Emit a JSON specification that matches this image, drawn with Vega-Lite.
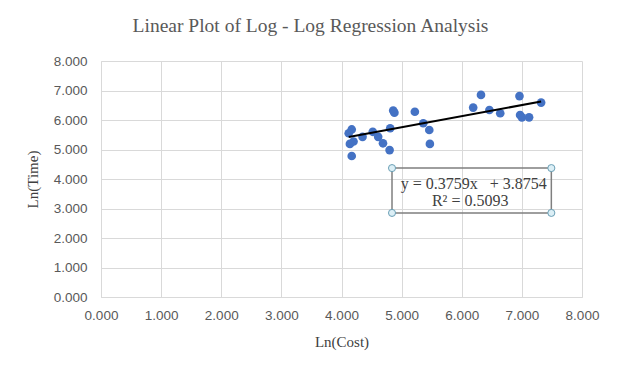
{
  "$schema": "https://vega.github.io/schema/vega-lite/v6.json",
  "width": 481,
  "height": 236,
  "autosize": {"type": "none"},
  "padding": {"left": 101, "top": 61, "right": 37, "bottom": 70},
  "background": "white",
  "title": {
    "text": "Linear Plot of Log - Log Regression Analysis",
    "font": "Liberation Serif",
    "fontSize": 19.5,
    "fontWeight": "normal",
    "color": "#595959",
    "anchor": "middle",
    "baseline": "alphabetic",
    "dx": -31,
    "offset": 3
  },
  "datasets": {
    "points": [
      {"lnCost": 4.17, "lnTime": 5.68},
      {"lnCost": 4.12, "lnTime": 5.55},
      {"lnCost": 4.14, "lnTime": 5.19},
      {"lnCost": 4.2, "lnTime": 5.27},
      {"lnCost": 4.17, "lnTime": 4.78},
      {"lnCost": 4.35, "lnTime": 5.43},
      {"lnCost": 4.52, "lnTime": 5.6},
      {"lnCost": 4.61, "lnTime": 5.43},
      {"lnCost": 4.69, "lnTime": 5.21},
      {"lnCost": 4.8, "lnTime": 4.98},
      {"lnCost": 4.81, "lnTime": 5.72},
      {"lnCost": 4.86, "lnTime": 6.32},
      {"lnCost": 4.88, "lnTime": 6.25},
      {"lnCost": 5.22, "lnTime": 6.28},
      {"lnCost": 5.36, "lnTime": 5.89},
      {"lnCost": 5.46, "lnTime": 5.66},
      {"lnCost": 5.47, "lnTime": 5.19},
      {"lnCost": 6.19, "lnTime": 6.42},
      {"lnCost": 6.32, "lnTime": 6.85},
      {"lnCost": 6.46, "lnTime": 6.34},
      {"lnCost": 6.64, "lnTime": 6.23},
      {"lnCost": 6.96, "lnTime": 6.81},
      {"lnCost": 6.97, "lnTime": 6.17},
      {"lnCost": 7.0, "lnTime": 6.09},
      {"lnCost": 7.12, "lnTime": 6.09},
      {"lnCost": 7.32, "lnTime": 6.59}
    ],
    "trend": [
      {"lnCost": 4.12, "lnTime": 5.424},
      {"lnCost": 7.32, "lnTime": 6.627}
    ],
    "box": [
      {"x1": 4.84, "x2": 7.49, "y1": 2.85, "y2": 4.37}
    ],
    "handles": [
      {"hx": 4.84, "hy": 2.85},
      {"hx": 7.49, "hy": 2.85},
      {"hx": 4.84, "hy": 4.37},
      {"hx": 7.49, "hy": 4.37}
    ],
    "labels": [
      {"lx": 6.2, "ly": 3.82, "label": "y = 0.3759x \u00a0 + 3.8754"},
      {"lx": 6.14, "ly": 3.27, "label": "R² = 0.5093"}
    ]
  },
  "layer": [
    {
      "data": {"name": "points"},
      "mark": {"type": "point", "filled": true, "shape": "circle", "size": 75, "color": "#4472C4", "opacity": 1},
      "encoding": {
        "x": {
          "field": "lnCost", "type": "quantitative",
          "scale": {"domain": [0, 8], "nice": false, "zero": false},
          "axis": {"values": [0, 1, 2, 3, 4, 5, 6, 7, 8], "format": ".3f", "title": "Ln(Cost)"}
        },
        "y": {
          "field": "lnTime", "type": "quantitative",
          "scale": {"domain": [0, 8], "nice": false, "zero": false},
          "axis": {"values": [0, 1, 2, 3, 4, 5, 6, 7, 8], "format": ".3f", "title": "Ln(Time)"}
        }
      }
    },
    {
      "data": {"name": "trend"},
      "mark": {"type": "line", "color": "black", "strokeWidth": 2},
      "encoding": {
        "x": {"field": "lnCost", "type": "quantitative", "axis": {"values": [0, 1, 2, 3, 4, 5, 6, 7, 8], "format": ".3f", "title": "Ln(Cost)"}},
        "y": {"field": "lnTime", "type": "quantitative", "axis": {"values": [0, 1, 2, 3, 4, 5, 6, 7, 8], "format": ".3f", "title": "Ln(Time)"}}
      }
    },
    {
      "data": {"name": "box"},
      "mark": {"type": "rect", "fill": null, "fillOpacity": 0, "stroke": "#7f7f7f", "strokeWidth": 1.5},
      "encoding": {
        "x": {"field": "x1", "type": "quantitative", "axis": {"values": [0, 1, 2, 3, 4, 5, 6, 7, 8], "format": ".3f", "title": "Ln(Cost)"}},
        "x2": {"field": "x2"},
        "y": {"field": "y1", "type": "quantitative", "axis": {"values": [0, 1, 2, 3, 4, 5, 6, 7, 8], "format": ".3f", "title": "Ln(Time)"}},
        "y2": {"field": "y2"}
      }
    },
    {
      "data": {"name": "handles"},
      "mark": {"type": "point", "filled": true, "shape": "circle", "size": 50, "fill": "#dcefF6", "stroke": "#6a9fb5", "strokeWidth": 1, "opacity": 1},
      "encoding": {
        "x": {"field": "hx", "type": "quantitative", "axis": {"values": [0, 1, 2, 3, 4, 5, 6, 7, 8], "format": ".3f", "title": "Ln(Cost)"}},
        "y": {"field": "hy", "type": "quantitative", "axis": {"values": [0, 1, 2, 3, 4, 5, 6, 7, 8], "format": ".3f", "title": "Ln(Time)"}}
      }
    },
    {
      "data": {"name": "labels"},
      "mark": {"type": "text", "font": "Liberation Serif", "fontSize": 16, "color": "#404040", "align": "center", "baseline": "middle"},
      "encoding": {
        "x": {"field": "lx", "type": "quantitative", "axis": {"values": [0, 1, 2, 3, 4, 5, 6, 7, 8], "format": ".3f", "title": "Ln(Cost)"}},
        "y": {"field": "ly", "type": "quantitative", "axis": {"values": [0, 1, 2, 3, 4, 5, 6, 7, 8], "format": ".3f", "title": "Ln(Time)"}},
        "text": {"field": "label", "type": "nominal"}
      }
    }
  ],
  "config": {
    "view": {"stroke": null},
    "axis": {
      "gridColor": "#d9d9d9",
      "gridWidth": 1,
      "domainColor": "#d9d9d9",
      "ticks": false,
      "labelOverlap": false,
      "labelFlush": false,
      "labelFont": "Liberation Sans",
      "labelFontSize": 13.5,
      "labelColor": "#595959",
      "titleFont": "Liberation Serif",
      "titleFontSize": 15,
      "titleFontWeight": "normal",
      "titleColor": "#404040"
    },
    "axisX": {"labelPadding": 11, "titlePadding": 13},
    "axisY": {"labelPadding": 14, "titlePadding": 13}
  }
}
